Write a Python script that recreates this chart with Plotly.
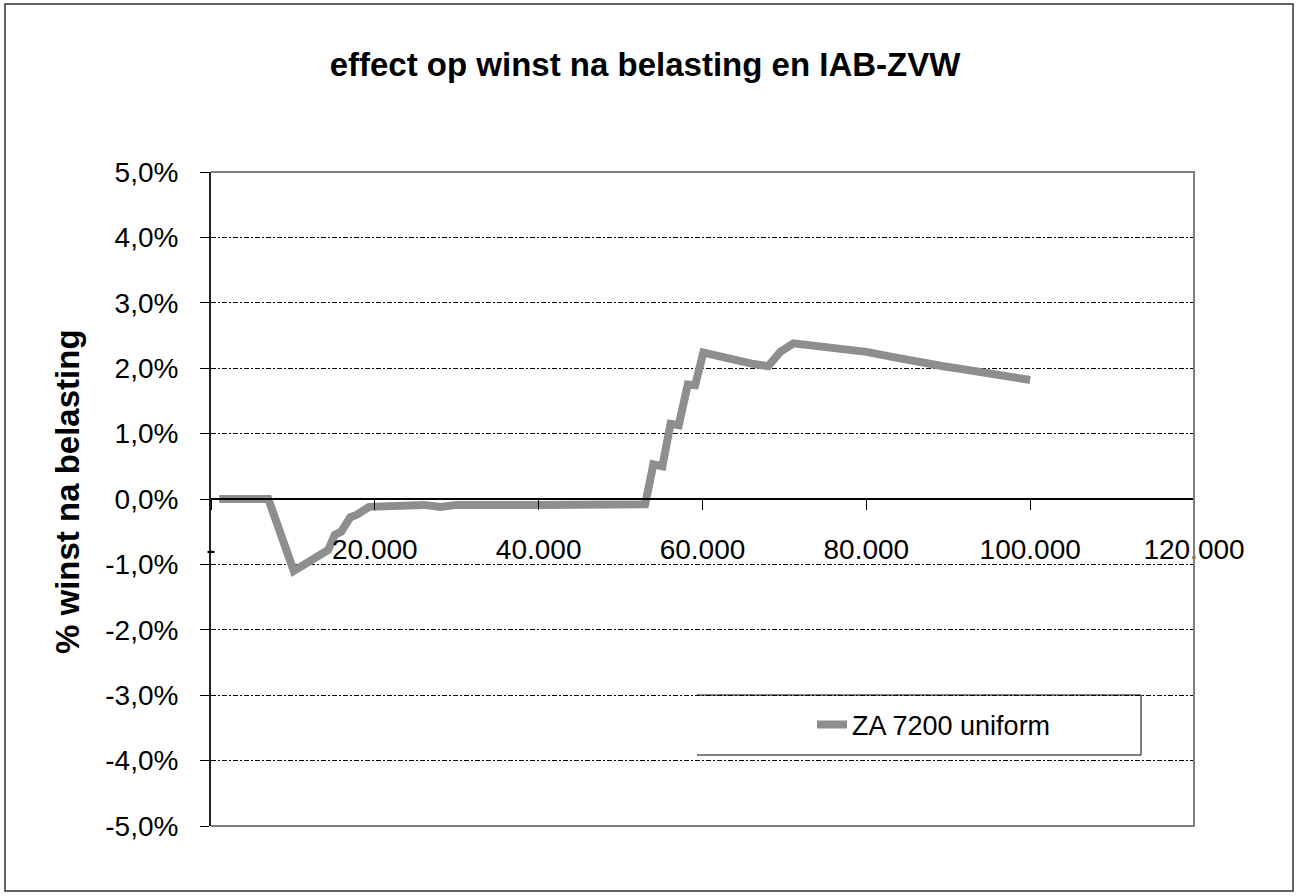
import plotly.graph_objects as go

# ---- data ----
income = [1000, 7000, 10100, 13700, 14300, 15100, 15900, 17000, 17800, 19300,
          23000, 26000, 28000, 30000, 40000, 50000, 53000, 54000, 55100, 56100,
          57100, 58200, 59100, 60100, 62000, 64000, 66000, 68000, 69500, 71100,
          74000, 77200, 80000, 83300, 86000, 89400, 92000, 95500, 98000, 100000]
effect_pct = [0.0, 0.0, -1.10, -0.83, -0.78, -0.55, -0.50, -0.28, -0.24, -0.12,
              -0.10, -0.09, -0.12, -0.09, -0.09, -0.09, -0.08, 0.53, 0.50, 1.15,
              1.13, 1.75, 1.74, 2.24, 2.18, 2.13, 2.07, 2.03, 2.25, 2.38,
              2.34, 2.29, 2.25, 2.17, 2.10, 2.03, 1.98, 1.91, 1.87, 1.82]
series_name = "ZA 7200 uniform"

x_tick_values = [0, 20000, 40000, 60000, 80000, 100000, 120000]
x_tick_labels = ["-", "20.000", "40.000", "60.000", "80.000", "100.000", "120.000"]
y_tick_values = [-5, -4, -3, -2, -1, 0, 1, 2, 3, 4, 5]
y_tick_labels = ["-5,0%", "-4,0%", "-3,0%", "-2,0%", "-1,0%", "0,0%",
                 "1,0%", "2,0%", "3,0%", "4,0%", "5,0%"]

title_text = "effect op winst na belasting en IAB-ZVW"
y_title_text = "% winst na belasting"

FONT = "Liberation Sans, Arial, sans-serif"

fig = go.Figure()
fig.add_trace(go.Scatter(
    x=income, y=effect_pct, mode="lines", name=series_name,
    line=dict(color="#8e8e8e", width=8),
))

fig.update_layout(
    width=1299, height=896,
    margin=dict(l=211, r=105, t=172, b=70),
    paper_bgcolor="white", plot_bgcolor="white",
    font=dict(family=FONT, color="black"),
    title=dict(text=title_text, x=645 / 1299, xanchor="center",
               y=1 - 64 / 896, yanchor="middle", yref="container",
               font=dict(family=FONT, size=33, color="black", weight="bold")),
    showlegend=True,
    legend=dict(x=(812 - 211) / 983, xanchor="left",
                y=(826 - 725) / 654, yanchor="middle",
                bgcolor="rgba(0,0,0,0)", borderwidth=0,
                font=dict(family=FONT, size=27, color="black")),
)

fig.update_xaxes(
    range=[0, 120000], tickvals=x_tick_values, ticktext=x_tick_labels,
    ticks="outside", ticklen=10, tickcolor="black", tickwidth=1,
    showline=True, linecolor="black", linewidth=1.5,
    anchor="free", position=0.5,
    showgrid=False, zeroline=False,
    tickfont=dict(family=FONT, size=28, color="black"),
    ticklabelstandoff=16,
)
fig.update_yaxes(
    range=[-5, 5], tickvals=y_tick_values, ticktext=y_tick_labels,
    ticks="outside", ticklen=9, tickcolor="black", tickwidth=1,
    showline=True, linecolor="#222222", linewidth=2,
    showgrid=True, gridcolor="black", gridwidth=1, griddash="5px,2px,2px,2px",
    zeroline=False,
    tickfont=dict(family=FONT, size=28, color="black"),
    ticklabelstandoff=16,
)

def px_x(p):
    return (p - 211) / 983

def px_y(p):
    return (826 - p) / 654

shapes = [
    # plot-area border (top, right, bottom)
    dict(type="path", xref="paper", yref="paper",
         path="M 0,1 L 1,1 L 1,0 L 0,0", line=dict(color="#7f7f7f", width=2)),
    # outer chart frame
    dict(type="rect", xref="paper", yref="paper",
         x0=px_x(5), x1=px_x(1293), y0=px_y(891), y1=px_y(4),
         line=dict(color="#333333", width=1.5)),
    # legend box (top, right, bottom)
    dict(type="path", xref="paper", yref="paper",
         path=f"M {px_x(697)},{px_y(695)} L {px_x(1141)},{px_y(695)} "
              f"L {px_x(1141)},{px_y(755)} L {px_x(697)},{px_y(755)}",
         line=dict(color="black", width=1)),
]
fig.update_layout(shapes=shapes)

fig.add_annotation(
    text=y_title_text, textangle=-90, showarrow=False,
    xref="paper", yref="paper", x=px_x(67), y=px_y(492),
    xanchor="center", yanchor="middle",
    font=dict(family=FONT, size=33, color="black", weight="bold"),
)

fig.write_html("out.html")
